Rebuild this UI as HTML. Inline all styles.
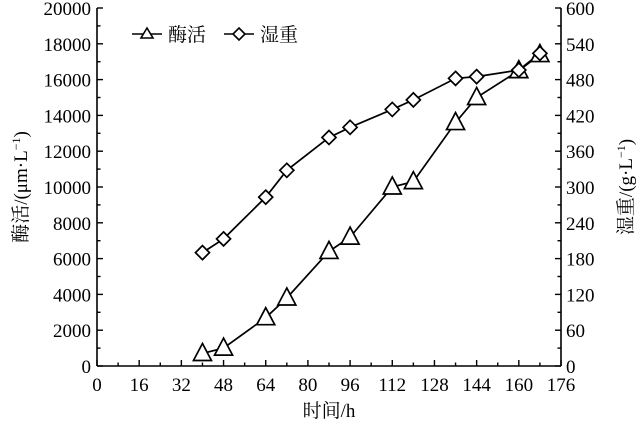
<!DOCTYPE html>
<html><head><meta charset="utf-8"><style>
html,body{margin:0;padding:0;background:#fff;}
svg text{font-family:"Liberation Serif","Noto Serif CJK SC",serif;fill:#000;}
</style></head><body>
<svg width="641" height="428" viewBox="0 0 641 428" xmlns="http://www.w3.org/2000/svg">
<g id="axes" stroke="#000" stroke-width="1.6" fill="none">
<line x1="97" y1="8" x2="97" y2="366"/>
<line x1="561" y1="8" x2="561" y2="366"/>
<line x1="97" y1="366" x2="561" y2="366"/>
</g>
<g stroke="#000" stroke-width="1.4" id="ticks"></g>
<g font-size="19" id="labels"></g>
<text x="329" y="417" font-size="19" text-anchor="middle">时间/h</text>
<text transform="translate(27,187) rotate(-90)" font-size="19" text-anchor="middle">酶活/(μm·L<tspan dy="-7" font-size="12">−1</tspan><tspan dy="7">)</tspan></text>
<text transform="translate(632,187) rotate(-90)" font-size="19" text-anchor="middle">湿重/(g·L<tspan dy="-7" font-size="12">−1</tspan><tspan dy="7">)</tspan></text>
<g stroke="#000" stroke-width="1.6" fill="none">
<line x1="132" y1="34" x2="162" y2="34"/>
<polygon points="147,28 141,38 153,38" fill="#fff"/>
<line x1="224" y1="34" x2="254" y2="34"/>
<polygon points="239,28 245,34 239,40 233,34" fill="#fff"/>
</g>
<text x="168" y="41" font-size="19">酶活</text>
<text x="260" y="41" font-size="19">湿重</text>
<g id="series"></g>
<script>
var NS="http://www.w3.org/2000/svg";
function X(h){return 97+h*464/176;}
function YL(v){return 366-v*358/20000;}
function YR(v){return 366-v*358/600;}
function el(p,t,a,txt){var e=document.createElementNS(NS,t);for(var k in a)e.setAttribute(k,a[k]);if(txt!=null)e.textContent=txt;document.getElementById(p).appendChild(e);return e;}
for(var h=0;h<=176;h+=8){var L=(h%16==0)?6:3.5;el("ticks","line",{x1:X(h),y1:366,x2:X(h),y2:366-L});}
for(var h=0;h<=176;h+=16)el("labels","text",{x:X(h),y:391,"text-anchor":"middle"},h);
for(var v=0;v<=20000;v+=1000){var L=(v%2000==0)?6:3.5;el("ticks","line",{x1:97,y1:YL(v),x2:97+L,y2:YL(v)});if(v%2000==0)el("labels","text",{x:91,y:YL(v)+7,"text-anchor":"end"},v);}
for(var v=0;v<=600;v+=30){var L=(v%60==0)?6:3.5;el("ticks","line",{x1:561,y1:YR(v),x2:561-L,y2:YR(v)});if(v%60==0)el("labels","text",{x:566,y:YR(v)+7,"text-anchor":"start"},v);}
var hs=[40,48,64,72,88,96,112,120,136,144,160,168];
var en=[700,1000,2700,3800,6400,7200,10000,10300,13600,15000,16500,17400];
var ww=[190,213,283,328,383,400,430,446,482,485,496,524];
var p1=hs.map(function(h,i){return X(h)+","+YL(en[i]);}).join(" ");
var p2=hs.map(function(h,i){return X(h)+","+YR(ww[i]);}).join(" ");
el("series","polyline",{points:p1,fill:"none",stroke:"#000","stroke-width":1.7});
el("series","polyline",{points:p2,fill:"none",stroke:"#000","stroke-width":1.7});
hs.forEach(function(h,i){var x=X(h),y=YL(en[i]);
el("series","polygon",{points:x+","+(y-10)+" "+(x-9)+","+(y+7)+" "+(x+9)+","+(y+7),fill:"#fff",stroke:"#000","stroke-width":1.7});
y=YR(ww[i]);
el("series","polygon",{points:x+","+(y-7)+" "+(x+7)+","+y+" "+x+","+(y+7)+" "+(x-7)+","+y,fill:"#fff",stroke:"#000","stroke-width":1.7});});
</script>
</svg>
</body></html>
